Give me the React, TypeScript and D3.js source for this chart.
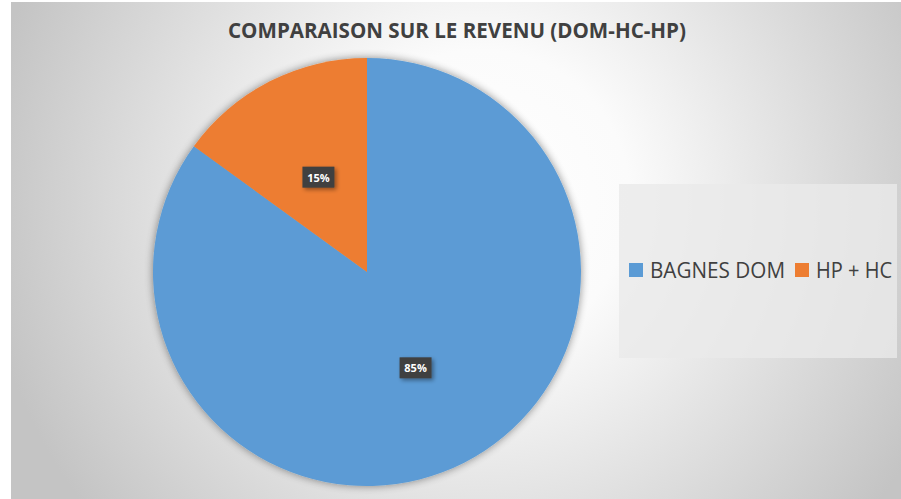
import React, { useEffect, useRef } from "react";
import * as d3 from "d3";

// chart data
const categories = ["BAGNES DOM", "HP + HC"];
const values = [85, 15];
const colors = ["#5B9BD5", "#ED7D31"];
const title = "COMPARAISON SUR LE REVENU (DOM-HC-HP)";

const W = 901;
const H = 499;

const App: React.FC = () => {
  const ref = useRef<SVGSVGElement>(null);

  useEffect(() => {
    if (!ref.current) return;
    const svg = d3.select(ref.current);
    svg.selectAll("*").remove();

    const defs = svg.append("defs");

    // background gradient
    const grad = defs
      .append("radialGradient")
      .attr("id", "bg")
      .attr("gradientUnits", "userSpaceOnUse")
      .attr("cx", 480)
      .attr("cy", 200)
      .attr("r", 500);
    grad.append("stop").attr("offset", "0%").attr("stop-color", "#ffffff");
    grad.append("stop").attr("offset", "30%").attr("stop-color", "#fbfbfb");
    grad.append("stop").attr("offset", "100%").attr("stop-color", "#c4c4c4");

    // soft shadow
    const shadow = defs
      .append("filter")
      .attr("id", "shadow")
      .attr("x", "-20%")
      .attr("y", "-20%")
      .attr("width", "140%")
      .attr("height", "140%");
    shadow.append("feGaussianBlur").attr("in", "SourceAlpha").attr("stdDeviation", 4);
    shadow.append("feOffset").attr("dx", 0).attr("dy", 0).attr("result", "blur");
    shadow
      .append("feComponentTransfer")
      .append("feFuncA")
      .attr("type", "linear")
      .attr("slope", 0.45);
    const merge = shadow.append("feMerge");
    merge.append("feMergeNode");
    merge.append("feMergeNode").attr("in", "SourceGraphic");

    const small = defs
      .append("filter")
      .attr("id", "lblShadow")
      .attr("x", "-30%")
      .attr("y", "-30%")
      .attr("width", "170%")
      .attr("height", "170%");
    small.append("feGaussianBlur").attr("in", "SourceAlpha").attr("stdDeviation", 2);
    small.append("feOffset").attr("dx", 2).attr("dy", 2);
    small
      .append("feComponentTransfer")
      .append("feFuncA")
      .attr("type", "linear")
      .attr("slope", 0.4);
    const m2 = small.append("feMerge");
    m2.append("feMergeNode");
    m2.append("feMergeNode").attr("in", "SourceGraphic");

    // chart area
    svg.append("rect").attr("width", W).attr("height", H).attr("fill", "#ffffff");
    svg
      .append("rect")
      .attr("x", 11)
      .attr("y", 2)
      .attr("width", W - 11)
      .attr("height", H - 2)
      .attr("fill", "url(#bg)");

    // title
    svg
      .append("text")
      .attr("x", 457)
      .attr("y", 38)
      .attr("text-anchor", "middle")
      .attr("textLength", 458)
      .attr("lengthAdjust", "spacingAndGlyphs")
      .style("font-family", "'Open Sans', sans-serif")
      .style("font-weight", "bold")
      .style("font-size", "21px")
      .style("fill", "#404040")
      .text(title);

    // pie
    const cx = 367;
    const cy = 272;
    const radius = 214;
    const pie = d3.pie<number>().sort(null)(values);
    const arc = d3.arc<d3.PieArcDatum<number>>().innerRadius(0).outerRadius(radius);
    const g = svg.append("g").attr("transform", `translate(${cx},${cy})`);
    g.append("g")
      .attr("filter", "url(#shadow)")
      .selectAll("path")
      .data(pie)
      .enter()
      .append("path")
      .attr("d", arc)
      .attr("fill", (d, i) => colors[i]);

    const total = d3.sum(values);
    const lbl = g
      .selectAll(".lbl")
      .data(pie)
      .enter()
      .append("g")
      .attr("class", "lbl")
      .attr("transform", (d) => {
        const [x, y] = arc.centroid(d);
        return `translate(${x},${y})`;
      });
    lbl
      .append("rect")
      .attr("x", -16)
      .attr("y", -10)
      .attr("width", 32)
      .attr("height", 21)
      .attr("fill", "#404040")
      .attr("filter", "url(#lblShadow)");
    lbl
      .append("text")
      .attr("text-anchor", "middle")
      .attr("y", 5)
      .style("font-family", "'Open Sans', sans-serif")
      .style("font-weight", "bold")
      .style("font-size", "11px")
      .style("fill", "#ffffff")
      .text((d) => `${Math.round((d.data / total) * 100)}%`);

    // legend
    svg
      .append("rect")
      .attr("x", 619)
      .attr("y", 184)
      .attr("width", 278)
      .attr("height", 174)
      .attr("fill", "#eaeaea")
      .attr("fill-opacity", 0.8);

    const legendX = [629, 795];
    const legendW = [135, 76];
    const leg = svg
      .selectAll(".leg")
      .data(categories)
      .enter()
      .append("g")
      .attr("class", "leg")
      .attr("transform", (d, i) => `translate(${legendX[i]},263)`);
    leg
      .append("rect")
      .attr("width", 14)
      .attr("height", 14)
      .attr("fill", (d, i) => colors[i]);
    leg
      .append("text")
      .attr("x", 21)
      .attr("y", 15)
      .attr("textLength", (d, i) => legendW[i])
      .attr("lengthAdjust", "spacingAndGlyphs")
      .style("font-family", "'Open Sans', sans-serif")
      .style("font-size", "21px")
      .style("fill", "#404040")
      .text((d) => d);
  }, []);

  return (
    <svg
      ref={ref}
      width={W}
      height={H}
      style={{ position: "absolute", left: 0, top: 0 }}
    ></svg>
  );
};

export default App;
